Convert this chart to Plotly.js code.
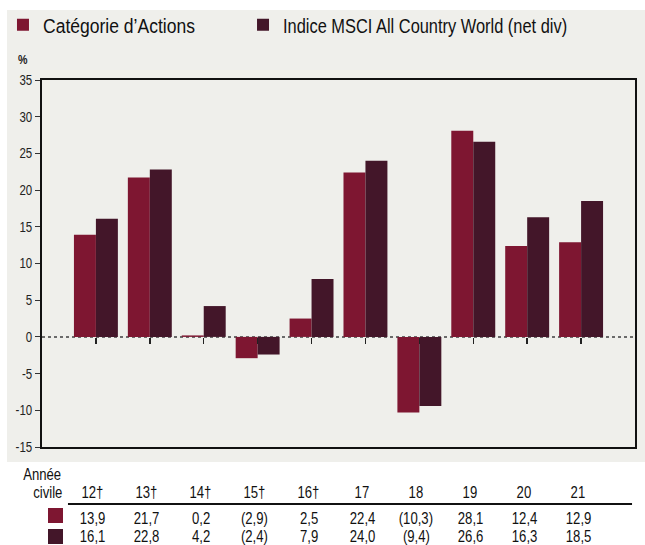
<!DOCTYPE html>
<html><head><meta charset="utf-8">
<script src="https://cdn.plot.ly/plotly-3.0.1.min.js"></script>
<style>html,body{margin:0;padding:0;background:#fff}#chart{width:645px;height:545px}</style>
</head><body><div id="chart"></div>
<script>
var years = ['12†','13†','14†','15†','16†','17','18','19','20','21'];
var seriesNames = ['Catégorie d’Actions','Indice MSCI All Country World (net div)'];
var fundValues = [13.9, 21.7, 0.2, -2.9, 2.5, 22.4, -10.3, 28.1, 12.4, 12.9];
var indexValues = [16.1, 22.8, 4.2, -2.4, 7.9, 24.0, -9.4, 26.6, 16.3, 18.5];
var yTicks = [-15,-10,-5,0,5,10,15,20,25,30,35];

var colors = ['#7e1631', '#431629'];
var FONT = '"Liberation Sans", Arial, sans-serif';
var NARROW = 0.82, NARROW_LEGEND = 0.876;

function fmt(v){
  var s = Math.abs(v).toFixed(1).replace('.', ',');
  return v < 0 ? '(' + s + ')' : s;
}

var traces = [
  {type:'bar', x: years, y: fundValues, name: seriesNames[0], marker:{color: colors[0]}, hoverinfo:'skip', legend:'legend'},
  {type:'bar', x: years, y: indexValues, name: seriesNames[1], marker:{color: colors[1]}, hoverinfo:'skip', legend:'legend2'},
  {type:'scatter', x: years, y: years.map(function(){return 0;}), xaxis:'x2', mode:'none', showlegend:false, hoverinfo:'skip'}
];

var tblFont = {family:FONT, size:16, color:'#111'};
var annotations = [
  {text:'%', xref:'paper', yref:'paper', x:-0.0312, y:1.057, showarrow:false, xanchor:'center', yanchor:'middle', font:{family:FONT, size:13, color:'#222', weight:'bold'}},
  {text:'Année', xref:'paper', yref:'paper', x:0.0422, y:-0.0736, showarrow:false, xanchor:'right', yanchor:'middle', font:tblFont},
  {text:'civile', xref:'paper', yref:'paper', x:0.0438, y:-0.1253, showarrow:false, xanchor:'right', yanchor:'middle', font:tblFont}
];
years.forEach(function(yr, i){
  annotations.push({text: yr, xref:'x', yref:'paper', x: i, xshift:-3, y:-0.1253, showarrow:false, xanchor:'center', yanchor:'middle', font:tblFont});
  annotations.push({text: fmt(fundValues[i]), xref:'x', yref:'paper', x: i, xshift:-3, y:-0.1935, showarrow:false, xanchor:'center', yanchor:'middle', font:tblFont});
  annotations.push({text: fmt(indexValues[i]), xref:'x', yref:'paper', x: i, xshift:-3, y:-0.2452, showarrow:false, xanchor:'center', yanchor:'middle', font:tblFont});
});

var shapes = [
  {type:'rect', xref:'paper', yref:'paper', x0:-0.059, x1:1.02, y0:-0.0409, y1:1.1907, fillcolor:'#efefeb', line:{width:0}, layer:'below'},
  {type:'line', xref:'paper', yref:'y', x0:0, x1:1, y0:0, y1:0, line:{color:'#6a6a6a', width:2, dash:'dot'}, layer:'below'},
  {type:'line', xref:'paper', yref:'paper', x0:0.0438, x1:0.995, y0:-0.1553, y1:-0.1553, line:{color:'#111', width:2}},
  {type:'rect', xref:'paper', yref:'paper', x0:0.0101, x1:0.0354, y0:-0.1662, y1:-0.2071, fillcolor:colors[0], line:{width:0}},
  {type:'rect', xref:'paper', yref:'paper', x0:0.0101, x1:0.0354, y0:-0.2234, y1:-0.2643, fillcolor:colors[1], line:{width:0}}
];

var legendFont = {family:FONT, size:20, color:'#111'};
var layout = {
  width:645, height:545,
  margin:{l:42, r:10, t:80, b:98, autoexpand:false},
  paper_bgcolor:'#ffffff', plot_bgcolor:'rgba(0,0,0,0)',
  barmode:'group', bargap:0.185, bargroupgap:0,
  font:{family:FONT, color:'#111'},
  showlegend:true,
  legend:{orientation:'h', x:-0.0658, xanchor:'left', y:1.1506, yanchor:'middle', bgcolor:'rgba(0,0,0,0)', font:legendFont},
  legend2:{orientation:'h', x:0.339, xanchor:'left', y:1.1506, yanchor:'middle', bgcolor:'rgba(0,0,0,0)', font:legendFont},
  xaxis:{type:'category', categoryorder:'array', categoryarray: years, range:[-1, 10], showticklabels:false, ticks:'', showgrid:false, zeroline:false, showline:true, linecolor:'#111', linewidth:2, mirror:true, fixedrange:true},
  xaxis2:{type:'category', categoryorder:'array', categoryarray: years, range:[-1, 10], overlaying:'x', anchor:'free', position:0.3, side:'bottom', showticklabels:false, ticks:'outside', ticklen:6, tickwidth:1.5, tickcolor:'#222', showgrid:false, zeroline:false, showline:false},
  yaxis:{range:[-15, 35], tickvals: yTicks, ticktext: yTicks.map(String), ticks:'outside', ticklen:5, tickwidth:1, tickcolor:'#333', showgrid:false, zeroline:false, showline:true, linecolor:'#111', linewidth:2, mirror:true, tickfont:{family:FONT, size:14, color:'#222'}, fixedrange:true},
  annotations: annotations,
  shapes: shapes
};

Plotly.newPlot('chart', traces, layout, {displayModeBar:false, staticPlot:true}).then(function(){
  // emulate a narrow (condensed) face, like Arial Narrow, by compressing glyphs horizontally
  document.querySelectorAll('#chart svg text').forEach(function(el){
    var len = el.getComputedTextLength();
    if (len > 0) {
      var f = el.closest('.legend') ? NARROW_LEGEND : NARROW;
      el.setAttribute('textLength', (len * f).toFixed(2));
      el.setAttribute('lengthAdjust', 'spacingAndGlyphs');
    }
  });
});
</script></body></html>
